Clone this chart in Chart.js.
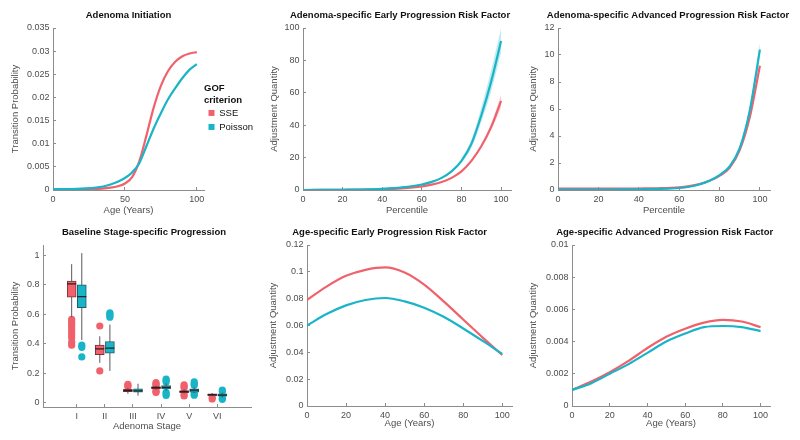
<!DOCTYPE html>
<html>
<head>
<meta charset="utf-8">
<title>Adenoma model calibration</title>
<script src="https://cdn.jsdelivr.net/npm/chart.js@4.4.1/dist/chart.umd.min.js"></script>
<style>
  html, body { margin: 0; background: #fff; }
  #figure { position: relative; width: 800px; height: 440px; overflow: hidden; background: #fff; }
  #figure canvas { position: absolute; }
</style>
</head>
<body>
<div id="figure">
  <canvas id="initChart" width="262" height="220" style="left:0;top:0"></canvas>
  <canvas id="earlyPctChart" width="277" height="220" style="left:260px;top:0"></canvas>
  <canvas id="advPctChart" width="289" height="220" style="left:525px;top:0"></canvas>
  <canvas id="stageChart" width="284" height="220" style="left:0;top:220px"></canvas>
  <canvas id="earlyAgeChart" width="257" height="220" style="left:260px;top:220px"></canvas>
  <canvas id="advAgeChart" width="282" height="220" style="left:525px;top:220px"></canvas>
</div>
<script>
/* ===============================
   DATA
================================ */
// Adenoma initiation (age in years)
const initAge = [0, 10, 20, 30, 40, 45, 50, 55, 60, 65, 70, 75, 80, 85, 90, 95, 100];
const initSSE = [0.0001, 0.0001, 0.00015, 0.0002, 0.0005, 0.0008, 0.0014, 0.0028, 0.0062, 0.0118, 0.0178, 0.0225, 0.0257, 0.0277, 0.0289, 0.0295, 0.0298];
const initPoisson = [0.0002, 0.0002, 0.0003, 0.0005, 0.0012, 0.0018, 0.0026, 0.0038, 0.0058, 0.0095, 0.0133, 0.0166, 0.0196, 0.022, 0.0242, 0.026, 0.0272];

// Adenoma-specific risk factors (percentile)
const pct = [0, 10, 20, 30, 40, 50, 60, 65, 70, 75, 80, 85, 90, 95, 100];
const earlyPctSSE = [0, 0.05, 0.1, 0.2, 0.4, 1.0, 2.2, 3.3, 4.9, 7.5, 11.5, 18, 27, 39, 55];
const earlyPctPoisson = [0, 0.05, 0.15, 0.3, 0.7, 1.6, 3.4, 5, 7.5, 11.5, 18, 28.5, 46, 67, 92];
const earlyBandPct = [80, 85, 90, 95, 100];
const earlyPoissonHi = [19.5, 31, 51, 74, 100];
const earlyPoissonLo = [16.5, 26, 42, 61, 85];
const earlyBandPctSSE = [90, 95, 100];
const earlySSEHi = [28, 41, 59];
const earlySSELo = [26, 37, 51];

const advPctSSE = [0.1, 0.1, 0.1, 0.1, 0.11, 0.13, 0.2, 0.29, 0.44, 0.68, 1.05, 1.65, 2.95, 5.4, 9.2];
const advPctPoisson = [0.03, 0.03, 0.03, 0.04, 0.05, 0.08, 0.15, 0.24, 0.41, 0.68, 1.1, 1.75, 3.1, 5.9, 10.4];
const advBandPct = [90, 95, 100];
const advPoissonHi = [3.2, 6.2, 10.9];
const advPoissonLo = [3.0, 5.6, 9.9];

// Age-specific risk factors
const age = [0, 10, 20, 30, 40, 50, 60, 70, 80, 90, 100];
const earlyAgeSSE = [0.079, 0.089, 0.097, 0.1015, 0.1033, 0.0995, 0.0905, 0.078, 0.0645, 0.051, 0.038];
const earlyAgePoisson = [0.06, 0.0685, 0.075, 0.079, 0.0805, 0.078, 0.0733, 0.0665, 0.0578, 0.0485, 0.0388];
const advAgeSSE = [0.001, 0.0015, 0.0021, 0.0028, 0.0036, 0.0043, 0.0048, 0.00518, 0.00535, 0.00525, 0.0049];
const advAgePoisson = [0.001, 0.0014, 0.002, 0.0026, 0.0033, 0.004, 0.0045, 0.0049, 0.00497, 0.0049, 0.00465];

// Baseline stage-specific progression (box plots)
const stages = ['I', 'II', 'III', 'IV', 'V', 'VI'];
const sseLow = [0.58, 0.27, 0.06, 0.088, 0.062, 0.042];
const sseQ1 = [0.716, 0.325, 0.074, 0.095, 0.068, 0.047];
const sseMed = [0.806, 0.365, 0.081, 0.102, 0.075, 0.054];
const sseQ3 = [0.825, 0.39, 0.09, 0.108, 0.082, 0.06];
const sseHigh = [0.94, 0.45, 0.1, 0.115, 0.09, 0.065];
const sseOut = [
  [0.565, 0.55, 0.535, 0.52, 0.5, 0.48, 0.46, 0.44, 0.41, 0.39],
  [0.52, 0.215],
  [0.107, 0.115, 0.123],
  [0.135, 0.125, 0.118, 0.085, 0.075, 0.068],
  [0.12, 0.11, 0.1, 0.055, 0.045],
  [0.035, 0.025]
];
const poisLow = [0.425, 0.215, 0.047, 0.08, 0.065, 0.035];
const poisQ1 = [0.645, 0.335, 0.071, 0.093, 0.071, 0.043];
const poisMed = [0.72, 0.37, 0.08, 0.103, 0.084, 0.051];
const poisQ3 = [0.8, 0.415, 0.093, 0.115, 0.093, 0.059];
const poisHigh = [1.015, 0.53, 0.128, 0.13, 0.105, 0.068];
const poisOut = [
  [0.39, 0.375, 0.31],
  [0.61, 0.6, 0.59, 0.58],
  [],
  [0.16, 0.15, 0.14, 0.07, 0.058, 0.048],
  [0.14, 0.128, 0.118, 0.062, 0.05],
  [0.085, 0.075, 0.03, 0.022]
];

/* ===============================
   STYLE
================================ */
const FONT = "'Liberation Sans', Arial, Helvetica, sans-serif";
const RED = '#f0616c';
const TEAL = '#19b4c7';
const RED_EDGE = '#7e3036';
const TEAL_EDGE = '#1b5d68';
const RED_BAND = 'rgba(240,97,108,0.3)';
const TEAL_BAND = 'rgba(25,180,199,0.28)';
const AXIS_COLOR = '#8c8c8c';
const TEXT_COLOR = '#4d4d4d';
const BOX_SHIFT = 0.18;
const MEDIAN_HALF = 0.16;

const fmt = (v) => String(Number(Number(v).toFixed(4)));
const pts = (xs, ys) => xs.map((x, i) => ({ x, y: ys[i] }));

function curve(label, xs, ys, color, order) {
  return {
    label, data: pts(xs, ys), borderColor: color, backgroundColor: color,
    borderWidth: 2.2, pointRadius: 0, fill: false,
    cubicInterpolationMode: 'monotone', order
  };
}

function band(xs, hi, lo, color) {
  return [
    { data: pts(xs, hi), borderWidth: 0, pointRadius: 0, backgroundColor: color, fill: '+1', cubicInterpolationMode: 'monotone', order: 5 },
    { data: pts(xs, lo), borderWidth: 0, pointRadius: 0, backgroundColor: color, fill: false, cubicInterpolationMode: 'monotone', order: 5 }
  ];
}

function scaleOpts(o, horizontal) {
  const s = {
    type: 'linear', min: o.min, max: o.max, offset: false,
    border: { display: true, color: AXIS_COLOR, width: 1 },
    grid: { display: true, offset: false, drawOnChartArea: false, drawTicks: true, tickLength: -3, color: AXIS_COLOR },
    ticks: {
      stepSize: o.step, includeBounds: false, autoSkip: false, maxRotation: 0,
      padding: horizontal ? 7 : 6.5, color: TEXT_COLOR, font: { family: FONT, size: 9 },
      callback: o.labels ? (v) => o.labels[Math.round(v) - 1] : fmt
    },
    title: {
      display: true, text: o.title, color: TEXT_COLOR, font: { family: FONT, size: 9.5 },
      padding: horizontal ? { top: 0, bottom: o.tpad } : { top: 0, bottom: 0 }
    },
    afterFit: (sc) => {
      if (horizontal) sc.height = o.size; else sc.width = o.size;
      sc.paddingLeft = sc.paddingRight = sc.paddingTop = sc.paddingBottom = 0;
    }
  };
  if (o.keep) s.afterBuildTicks = (sc) => { sc.ticks = sc.ticks.filter((t) => o.keep(t.value)); };
  return s;
}

// empty strip on the right so the full-width title sits where the reference has it
function spacer(w) {
  return {
    type: 'linear', position: 'right', display: true,
    grid: { display: false }, border: { display: false },
    ticks: { display: false }, title: { display: false },
    afterFit: (sc) => { sc.width = w; sc.paddingTop = sc.paddingBottom = 0; }
  };
}

function makeChart(id, c) {
  const top = c.row === 0;
  const scales = { x: scaleOpts(c.x, true), y: scaleOpts(c.y, false) };
  if (c.spacer) scales.ySpacer = spacer(c.spacer);
  return new Chart(document.getElementById(id), {
    type: 'line',
    data: { datasets: c.datasets },
    options: {
      responsive: false,
      animation: false,
      events: [],
      layout: { padding: { left: c.pl, right: c.pr, top: 0, bottom: 0 } },
      plugins: {
        tooltip: { enabled: false },
        legend: c.legend || { display: false },
        title: {
          display: true, text: c.title, color: '#111', fullSize: c.titleFull !== false,
          font: { family: FONT, size: 9.5, weight: 'bold' },
          padding: top ? { top: 9.3, bottom: 7.3 } : { top: 6.3, bottom: 7.3 }
        }
      },
      scales
    }
  });
}

/* ===============================
   TOP ROW
================================ */
makeChart('initChart', {
  row: 0, pl: 9.3, pr: 0, titleFull: false, title: 'Adenoma Initiation',
  x: { min: 0, max: 105, step: 50, title: 'Age (Years)', size: 30, tpad: 4.3 },
  y: { min: 0, max: 0.035, step: 0.005, title: 'Transition Probability', size: 43.7 },
  datasets: [
    curve('SSE', initAge, initSSE, RED, 1),
    curve('Poisson', initAge, initPoisson, TEAL, 0)
  ],
  legend: {
    display: true, position: 'right', align: 'center', maxWidth: 58,
    title: {
      display: true, text: ['GOF', 'criterion'], position: 'start', color: '#111',
      font: { family: FONT, size: 9.5, weight: 'bold' }, padding: { top: 0, bottom: 8.5 }
    },
    labels: {
      boxWidth: 6, boxHeight: 6, padding: 4.5, color: TEXT_COLOR,
      font: { family: FONT, size: 9.5 },
      generateLabels: () => [
        { text: 'SSE', fillStyle: RED, strokeStyle: RED, lineWidth: 0, hidden: false, datasetIndex: 0 },
        { text: 'Poisson', fillStyle: TEAL, strokeStyle: TEAL, lineWidth: 0, hidden: false, datasetIndex: 1 }
      ]
    }
  }
});

makeChart('earlyPctChart', {
  row: 0, pl: 8.3, pr: 5.3, spacer: 20.7, title: 'Adenoma-specific Early Progression Risk Factor',
  x: { min: 0, max: 105, step: 20, title: 'Percentile', size: 30, tpad: 4.3 },
  y: { min: 0, max: 100, step: 20, title: 'Adjustment Quantity', size: 34.7 },
  datasets: [
    curve('SSE', pct, earlyPctSSE, RED, 1),
    curve('Poisson', pct, earlyPctPoisson, TEAL, 0),
    ...band(earlyBandPct, earlyPoissonHi, earlyPoissonLo, TEAL_BAND),
    ...band(earlyBandPctSSE, earlySSEHi, earlySSELo, RED_BAND)
  ]
});

makeChart('advPctChart', {
  row: 0, pl: 2.3, pr: 5.3, spacer: 38.7, title: 'Adenoma-specific Advanced Progression Risk Factor',
  x: { min: 0, max: 105, step: 20, title: 'Percentile', size: 30, tpad: 4.3 },
  y: { min: 0, max: 12, step: 2, title: 'Adjustment Quantity', size: 30.7 },
  datasets: [
    curve('SSE', pct, advPctSSE, RED, 1),
    curve('Poisson', pct, advPctPoisson, TEAL, 0),
    ...band(advBandPct, advPoissonHi, advPoissonLo, TEAL_BAND)
  ]
});

/* ===============================
   BOTTOM ROW
================================ */
function boxSeries(q1, q3, fill, edge, shift) {
  return {
    type: 'bar', data: stages.map((s, i) => ({ x: i + 1 + shift, y: [q1[i], q3[i]] })),
    backgroundColor: fill, borderColor: edge, borderWidth: 1, borderSkipped: false,
    barThickness: 9, grouped: false, order: 1
  };
}

function whiskerSeries(lo, hi, shift) {
  const data = [];
  stages.forEach((s, i) => {
    const x = i + 1 + shift;
    data.push({ x, y: lo[i] }, { x, y: hi[i] }, { x, y: null });
  });
  return { type: 'line', data, borderColor: '#5a5a5a', borderWidth: 1, pointRadius: 0, spanGaps: false, order: 2 };
}

function medianSeries(med, shift) {
  const data = [];
  stages.forEach((s, i) => {
    const x = i + 1 + shift;
    data.push({ x: x - MEDIAN_HALF, y: med[i] }, { x: x + MEDIAN_HALF, y: med[i] }, { x, y: null });
  });
  return { type: 'line', data, borderColor: '#222', borderWidth: 1.2, pointRadius: 0, spanGaps: false, order: 0 };
}

function outlierSeries(out, color, shift) {
  const data = [];
  out.forEach((vals, i) => vals.forEach((v) => data.push({ x: i + 1 + shift, y: v })));
  return {
    type: 'scatter', data, showLine: false, pointRadius: 3.6, pointBorderWidth: 0,
    backgroundColor: color, borderColor: color, order: 3
  };
}

makeChart('stageChart', {
  row: 1, pl: 9.3, pr: 5.3, spacer: 27.7, title: 'Baseline Stage-specific Progression',
  x: { min: -0.2, max: 7.2, step: 1, title: 'Adenoma Stage', size: 33, tpad: 7.6,
       labels: stages, keep: (v) => v >= 1 && v <= stages.length },
  y: { min: -0.03, max: 1.07, step: 0.2, title: 'Transition Probability', size: 33.7 },
  datasets: [
    medianSeries(sseMed, -BOX_SHIFT),
    medianSeries(poisMed, BOX_SHIFT),
    boxSeries(sseQ1, sseQ3, RED, RED_EDGE, -BOX_SHIFT),
    boxSeries(poisQ1, poisQ3, TEAL, TEAL_EDGE, BOX_SHIFT),
    whiskerSeries(sseLow, sseHigh, -BOX_SHIFT),
    whiskerSeries(poisLow, poisHigh, BOX_SHIFT),
    outlierSeries(sseOut, RED, -BOX_SHIFT),
    outlierSeries(poisOut, TEAL, BOX_SHIFT)
  ]
});

makeChart('earlyAgeChart', {
  row: 1, pl: 7.3, pr: 5, title: 'Age-specific Early Progression Risk Factor',
  x: { min: 0, max: 105, step: 20, title: 'Age (Years)', size: 34, tpad: 11.3 },
  y: { min: 0, max: 0.12, step: 0.02, title: 'Adjustment Quantity', size: 39.7 },
  datasets: [
    curve('SSE', age, earlyAgeSSE, RED, 1),
    curve('Poisson', age, earlyAgePoisson, TEAL, 0)
  ]
});

makeChart('advAgeChart', {
  row: 1, pl: 2.3, pr: 4.9, spacer: 32.1, title: 'Age-specific Advanced Progression Risk Factor',
  x: { min: 0, max: 105, step: 20, title: 'Age (Years)', size: 34, tpad: 11.3 },
  y: { min: 0, max: 0.01, step: 0.002, title: 'Adjustment Quantity', size: 44.7 },
  datasets: [
    curve('SSE', age, advAgeSSE, RED, 1),
    curve('Poisson', age, advAgePoisson, TEAL, 0)
  ]
});
</script>
</body>
</html>
